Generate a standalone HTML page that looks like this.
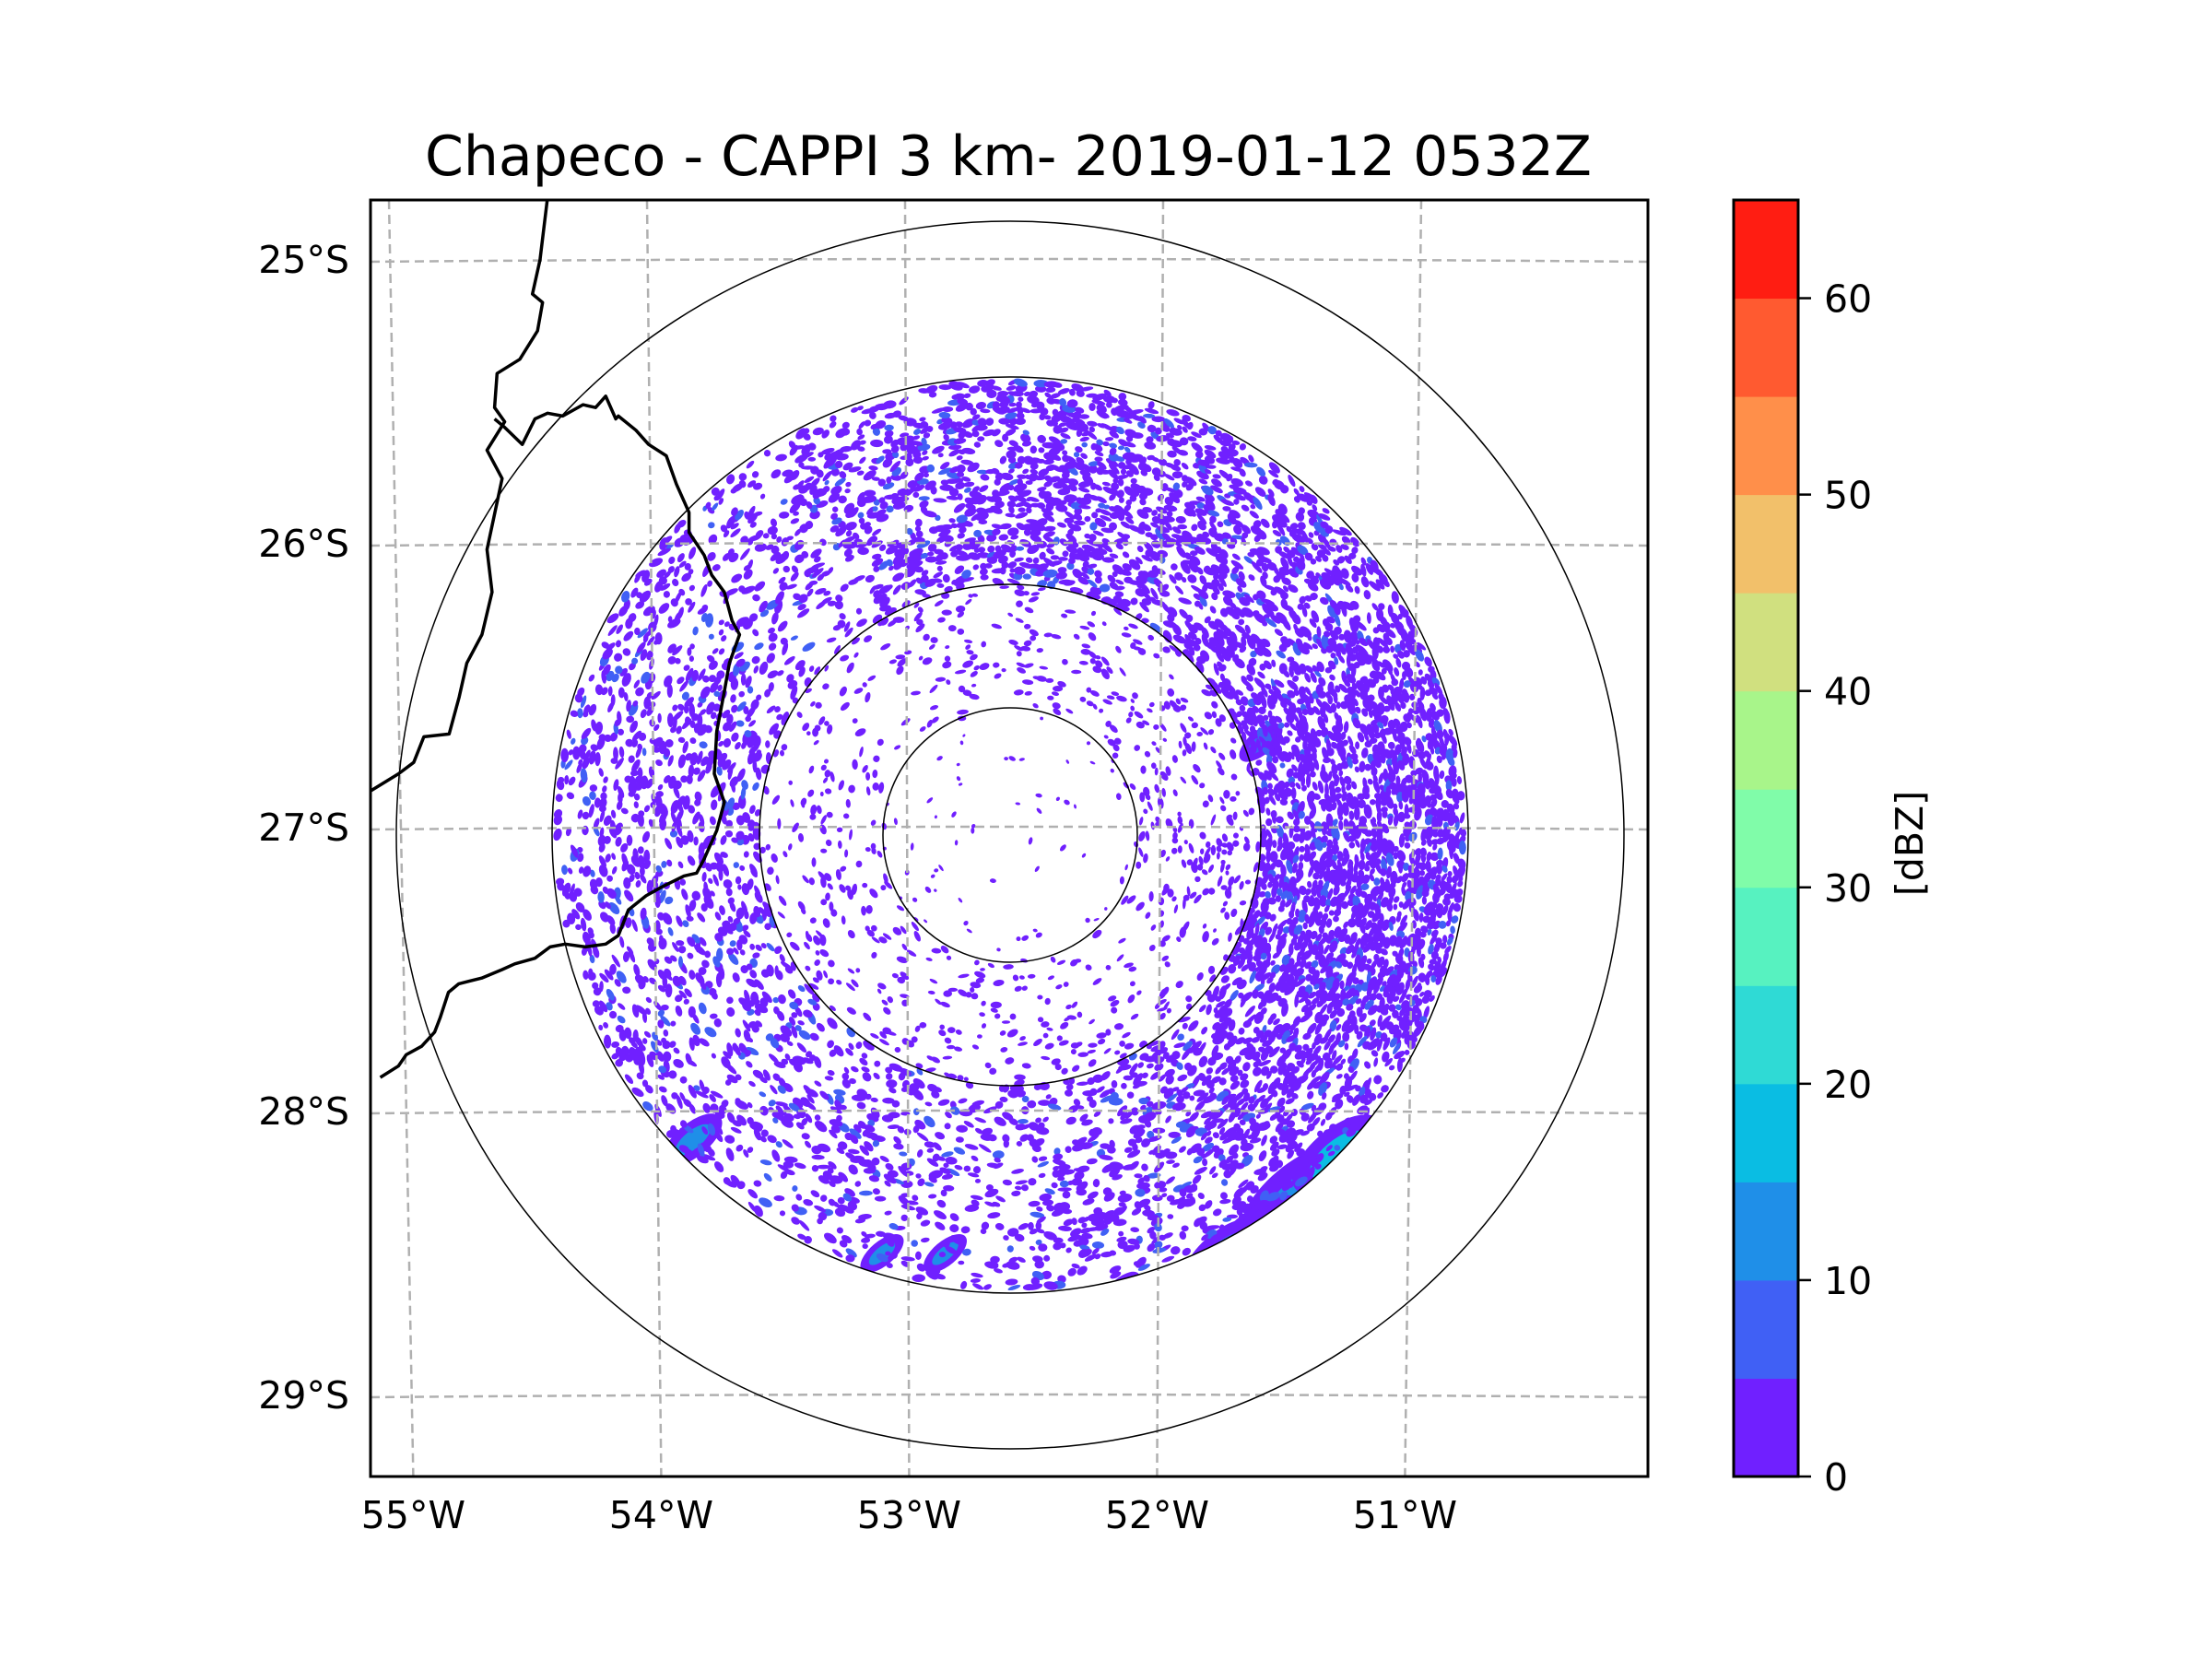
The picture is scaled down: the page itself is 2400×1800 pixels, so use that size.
<!DOCTYPE html>
<html><head><meta charset="utf-8"><style>
html,body{margin:0;padding:0;background:#fff;}
svg{display:block;font-family:"DejaVu Sans","Liberation Sans",sans-serif;}
</style></head><body>
<svg id="fig" width="2400" height="1800" viewBox="0 0 2400 1800" xmlns="http://www.w3.org/2000/svg">
<rect x="0" y="0" width="2400" height="1800" fill="#fff"/>
<text x="1094" y="190" font-size="60" text-anchor="middle">Chapeco - CAPPI 3 km- 2019-01-12 0532Z</text>
<defs><clipPath id="axclip"><rect x="402" y="217" width="1386" height="1385"/></clipPath>
<clipPath id="radclip"><circle cx="1096" cy="906" r="497"/></clipPath></defs>
<g id="echoes" clip-path="url(#radclip)"></g>
<g id="grid" clip-path="url(#axclip)" stroke="#b0b0b0" stroke-width="2.5" stroke-dasharray="10,6" fill="none"></g>
<g clip-path="url(#axclip)" fill="none" stroke="#000" stroke-width="1.5">
<circle cx="1096" cy="906" r="138"/><circle cx="1096" cy="906" r="272"/><circle cx="1096" cy="906" r="497"/><circle cx="1096" cy="906" r="666"/>
</g>
<g clip-path="url(#axclip)" fill="none" stroke="#000" stroke-width="3.5" stroke-linejoin="round">
<polyline id="b1"/>
<polyline id="b2"/>
</g>
<rect x="402" y="217" width="1386" height="1385" fill="none" stroke="#000" stroke-width="3"/>
<g id="latlabels" font-size="41" text-anchor="end"></g>
<g id="lonlabels" font-size="41" text-anchor="middle"></g>
<g id="cbar"></g>
<text font-size="41" text-anchor="middle" transform="translate(2086,915) rotate(-90)">[dBZ]</text>
</svg>
<script>
// ---- data ----
const latTicks = [25,26,27,28,29];
const latLabels = ["25°S","26°S","27°S","28°S","29°S"];
const lonTicks = [55,54,53,52,51];
const lonLabels = ["55°W","54°W","53°W","52°W","51°W"];
const cbarBounds = [0,5,10,15,20,25,30,35,40,45,50,55,60,65];
const cbarColors = ["#7020ff","#4060f5","#1f8fe8","#0abde3","#2fdad5","#57f2c0","#80fca9","#a8f58a","#d0e07f","#f2c06a","#ff8f4a","#ff5a30","#ff1d12"];
const cbarTicks = [0,10,20,30,40,50,60];
// echo coverage fraction per 30° azimuth sector (clockwise from north)
const densInner = [0.05,0.05,0.05,0.05,0.05,0.05,0.05,0.05,0.05,0.05,0.05,0.05];
const densMid = [0.2,0.2,0.22,0.26,0.18,0.18,0.18,0.16,0.18,0.18,0.16,0.2];
const densOuter = [0.58,0.5,0.7,0.78,0.5,0.34,0.28,0.3,0.36,0.38,0.3,0.5];
// stronger echo cells
const cellLon = [-51.45,-51.62,-51.3,-53.85,-53.1,-52.85,-52.15,-51.6,-51.75];
const cellLat = [-28.3,-28.45,-28.15,-28.1,-28.5,-28.5,-28.62,-26.7,-28.5];
const cellDbz = [14,12,17,12,12,10,15,8,8];
const cellSize = [60,50,45,30,22,22,18,22,40];
const border1Lon = [-54.49,-54.52,-54.55,-54.51,-54.53,-54.6,-54.69,-54.7,-54.66,-54.73,-54.67,-54.73,-54.71,-54.75,-54.81,-54.84,-54.88,-54.98,-55.02,-55.08,-55.19];
const border1Lat = [-24.78,-25.0,-25.12,-25.15,-25.25,-25.35,-25.4,-25.52,-25.57,-25.67,-25.77,-26.02,-26.17,-26.32,-26.42,-26.54,-26.67,-26.68,-26.77,-26.81,-26.87];
const border2Lon = [-54.7,-54.66,-54.59,-54.54,-54.49,-54.43,-54.35,-54.3,-54.26,-54.22,-54.21,-54.14,-54.09,-54.02,-53.98,-53.93,-53.93,-53.87,-53.84,-53.79,-53.76,-53.73,-53.77,-53.79,-53.82,-53.83,-53.79,-53.82,-53.87,-53.9,-53.95,-54.04,-54.1,-54.17,-54.21,-54.26,-54.34,-54.42,-54.48,-54.54,-54.62,-54.67,-54.75,-54.84,-54.88,-54.91,-54.93,-54.98,-55.04,-55.07,-55.14];
const border2Lat = [-25.56,-25.59,-25.65,-25.56,-25.54,-25.55,-25.51,-25.52,-25.48,-25.56,-25.55,-25.6,-25.65,-25.69,-25.79,-25.89,-25.96,-26.04,-26.11,-26.17,-26.27,-26.32,-26.42,-26.52,-26.66,-26.81,-26.91,-27.01,-27.11,-27.16,-27.17,-27.21,-27.24,-27.29,-27.38,-27.41,-27.42,-27.41,-27.42,-27.46,-27.48,-27.5,-27.53,-27.55,-27.58,-27.67,-27.72,-27.77,-27.8,-27.84,-27.88];

// ---- axis functions ----
const x0=1094, yc=898, pxDegY=308, lonC=-52.6;
function xLon(lon){ return x0 + (lon - lonC)*274; }
function xLonAt(lon,scale){ return x0 + (lon - lonC)*scale; }
function yLat(latS){ return yc + (latS - 27)*pxDegY; }   // latS = degrees south (positive)
const cbY0=1602, cbY1=217, cbX=1881, cbW=70;
function yCb(v){ const a=cbarBounds[0], b=cbarBounds[cbarBounds.length-1]; return cbY0 - (v-a)/(b-a)*(cbY0-cbY1); }
function colorFor(v){ for(let i=0;i<cbarColors.length;i++){ if(v<cbarBounds[i+1]) return cbarColors[i]; } return cbarColors[cbarColors.length-1]; }

const NS="http://www.w3.org/2000/svg";
function mk(tag,attrs,parent){const e=document.createElementNS(NS,tag);for(const k in attrs)e.setAttribute(k,attrs[k]);parent.appendChild(e);return e;}

// gridlines
const grid=document.getElementById('grid');
latTicks.forEach((lat,i)=>{
  const y=yLat(lat);
  const p=mk('path',{d:`M402 ${y+2} Q1094 ${y-4} 1788 ${y+2}`},grid);
  
  
  const t=mk('text',{x:379,y:y+14},document.getElementById('latlabels'));
  t.textContent=latLabels[i];
  
  
});
lonTicks.forEach((lon,i)=>{
  const xt=xLonAt(-lon,280), xb=xLonAt(-lon,269);
  const p=mk('path',{d:`M${xt} 217 L${xb} 1602`},grid);
  
  
  const t=mk('text',{x:xb,y:1658},document.getElementById('lonlabels'));
  t.textContent=lonLabels[i];
  
  
});

// borders
function pts(lons,lats){return lons.map((l,i)=>(xLon(l)+18-Math.max(0,(-lats[i]-27.5))*4.5*2).toFixed(1)+','+yLat(-lats[i]).toFixed(1)).join(' ');}
document.getElementById('b1').setAttribute('points',pts(border1Lon,border1Lat));
document.getElementById('b2').setAttribute('points',pts(border2Lon,border2Lat));

// colorbar
const cb=document.getElementById('cbar');
cbarColors.forEach((c,i)=>{
  const y1=yCb(cbarBounds[i+1]), y0=yCb(cbarBounds[i]);
  const r=mk('rect',{x:cbX,y:y1,width:cbW,height:y0-y1+0.5,fill:c},cb);
  
  
});
mk('rect',{x:cbX,y:cbY1,width:cbW,height:cbY0-cbY1,fill:'none',stroke:'#000','stroke-width':3},cb);
cbarTicks.forEach(v=>{
  const y=yCb(v);
  mk('line',{x1:cbX+cbW,x2:cbX+cbW+14,y1:y,y2:y,stroke:'#000','stroke-width':2.5},cb);
  const t=mk('text',{x:cbX+cbW+28,y:y+15,'font-size':41},cb);
  t.textContent=String(v);
  
  
});

// echoes (speckle texture with deterministic hash)
const rx0=1096, ry0=906;
function h(a,b){const s=Math.sin(a*127.1+b*311.7)*43758.5453;return s-Math.floor(s);}
const eg=document.getElementById('echoes');
cellLon.forEach((lon,i)=>{
  const cx=xLon(lon), cy=yLat(-cellLat[i]);
  const s=cellSize[i];
  const e1=mk('ellipse',{cx:cx,cy:cy,rx:s*1.3,ry:s*0.6,fill:cbarColors[0],transform:`rotate(-40 ${cx} ${cy})`},eg);
  
  
  const e2=mk('ellipse',{cx:cx,cy:cy,rx:s*0.8,ry:s*0.32,fill:colorFor(cellDbz[i]),transform:`rotate(-40 ${cx} ${cy})`},eg);
  
  
});
let out='';
const base=colorFor(2), light=colorFor(7);
for(let r=5;r<497;r+=6){
  const n=Math.max(6,Math.round(2*Math.PI*r/8));
  for(let k=0;k<n;k++){
    const az=(k+h(r,k)*0.6)/n*360;
    const sec=Math.floor(az/30)%12;
    const d = r<138?densInner[sec]:(r<272?densMid[sec]:densOuter[sec]);
    if(h(k*1.3,r*0.7)>d) continue;
    const a=az*Math.PI/180;
    const x=rx0+r*Math.sin(a), y=ry0-r*Math.cos(a);
    const big = r<138?0.6:(r<272?0.8:1);
    const rx=(3+h(r*2.1,k)*5)*big, ry=(2.2+h(k,r*3.3)*2.5)*big;
    const col = (r>272 && h(k*0.37,r*1.9)<0.1)?light:base;
    out+=`<ellipse cx="${x.toFixed(1)}" cy="${y.toFixed(1)}" rx="${rx.toFixed(1)}" ry="${ry.toFixed(1)}" transform="rotate(${(az+h(k,r)*60-30).toFixed(0)} ${x.toFixed(1)} ${y.toFixed(1)})" fill="${col}"/>`;
  }
}
eg.insertAdjacentHTML('beforeend',out);
</script>
</body></html>
